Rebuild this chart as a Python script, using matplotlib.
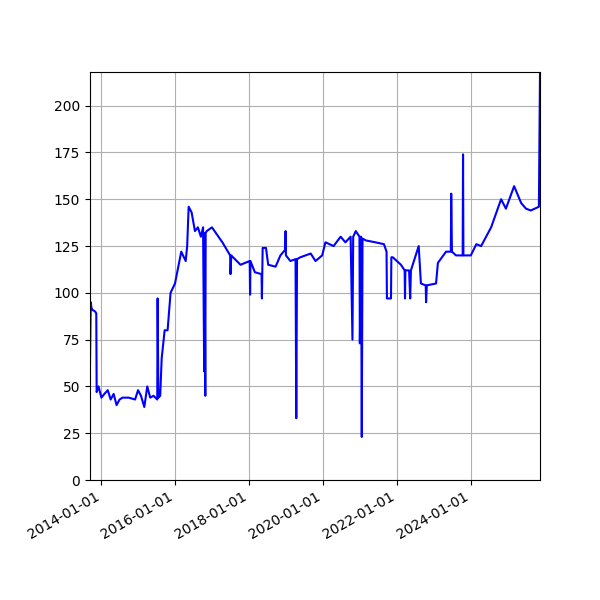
import numpy as np
import pandas as pd
import matplotlib
matplotlib.use("Agg")
import matplotlib.pyplot as plt
import matplotlib.dates as mdates

# decimal year -> value
years = [2013.69, 2013.71, 2013.73, 2013.75, 2013.83, 2013.86, 2013.87, 2013.92,
         2014.00, 2014.08, 2014.17, 2014.25, 2014.33, 2014.41, 2014.49, 2014.57,
         2014.74, 2014.91, 2014.99, 2015.07, 2015.16, 2015.24, 2015.32, 2015.41,
         2015.51, 2015.52, 2015.54, 2015.59, 2015.63, 2015.71, 2015.79, 2015.87,
         2015.99, 2016.16, 2016.28, 2016.32, 2016.36, 2016.44, 2016.53, 2016.61,
         2016.69, 2016.75, 2016.78, 2016.79, 2016.81, 2016.82, 2016.85, 2016.99,
         2017.27, 2017.48, 2017.49, 2017.51, 2017.76, 2018.01, 2018.02, 2018.03,
         2018.15, 2018.33, 2018.34, 2018.36, 2018.45, 2018.51, 2018.71, 2018.84,
         2018.97, 2018.98, 2018.99, 2019.11, 2019.25, 2019.27, 2019.29, 2019.38,
         2019.66, 2019.79, 2019.97, 2020.06, 2020.28, 2020.47, 2020.60, 2020.74,
         2020.79, 2020.81, 2020.88, 2020.98, 2020.99, 2021.02, 2021.04, 2021.06,
         2021.15, 2021.41, 2021.64, 2021.71, 2021.72, 2021.83, 2021.84, 2021.88,
         2022.10, 2022.20, 2022.21, 2022.22, 2022.32, 2022.35, 2022.37, 2022.58,
         2022.64, 2022.77, 2022.78, 2022.80, 2023.05, 2023.10, 2023.32, 2023.45,
         2023.46, 2023.48, 2023.59, 2023.77, 2023.78, 2023.79, 2023.99, 2024.14,
         2024.27, 2024.54, 2024.81, 2024.94, 2025.16, 2025.35, 2025.48, 2025.61,
         2025.83, 2025.86]
values = [62, 95, 92, 91, 90, 89, 47, 50,
          44, 46, 48, 43, 46, 40, 43, 44,
          44, 43, 48, 45, 39, 50, 44, 45,
          43, 97, 44, 45, 65, 80, 80, 100,
          105, 122, 117, 125, 146, 143, 133, 135,
          130, 135, 58, 132, 45, 132, 133, 135,
          127, 120, 110, 120, 115, 117, 99, 117,
          111, 110, 97, 124, 124, 115, 114, 120,
          123, 133, 120, 117, 118, 33, 118, 119,
          121, 117, 120, 127, 125, 130, 127, 130,
          75, 130, 133, 130, 73, 130, 23, 129,
          128, 127, 126, 122, 97, 97, 119, 119,
          115, 112, 97, 112, 112, 97, 112, 125,
          105, 104, 95, 104, 105, 116, 122, 122,
          153, 122, 120, 120, 174, 120, 120, 126,
          125, 135, 150, 145, 157, 148, 145, 144,
          146, 218]


def to_dates(ys):
    out = []
    for y in ys:
        yr = int(y)
        start = pd.Timestamp(year=yr, month=1, day=1)
        out.append(start + pd.Timedelta(days=(y - yr) * 365.25))
    return out


dates = to_dates(years)

fig = plt.figure(figsize=(6, 6), dpi=100)
ax = fig.add_axes([0.15, 0.2, 0.75, 0.68])
ax.plot(dates, values, color='blue', lw=1.5)
ax.set_xlim(dates[0], dates[-1])
ax.set_ylim(0, 218)
ax.xaxis.set_major_locator(mdates.YearLocator(2))
ax.xaxis.set_major_formatter(mdates.DateFormatter('%Y-%m-%d'))
ax.grid(True)
for lbl in ax.get_xticklabels():
    lbl.set_rotation(30)
    lbl.set_ha('right')
fig.savefig('out.png')
